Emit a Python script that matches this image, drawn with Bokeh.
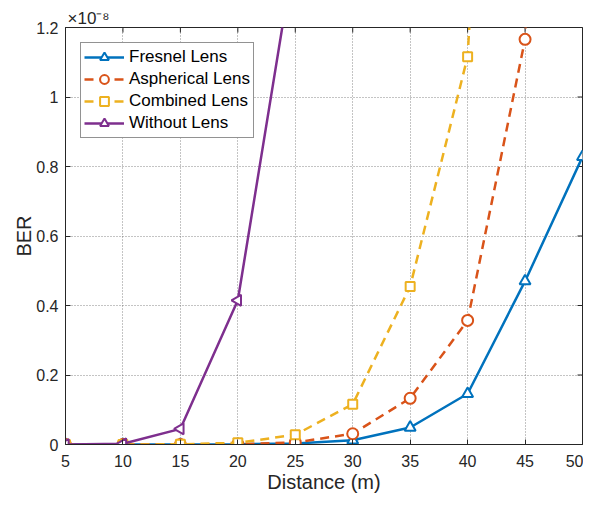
import numpy as np
from bokeh.plotting import figure
from bokeh.models import Range1d, Legend, LegendItem, FixedTicker
from bokeh.embed import file_html
from bokeh.resources import INLINE

distance = [5, 10, 15, 20, 25, 30, 35, 40, 45, 50]
fresnel = [0.0, 0.0, 0.0, 0.0005, 0.003, 0.012, 0.049, 0.146, 0.47, 0.828]
aspherical = [0.0, 0.0, 0.0, 0.001, 0.006, 0.031, 0.133, 0.357, 1.166, 4.5]
combined = [0.0, 0.0, 0.0005, 0.005, 0.028, 0.116, 0.455, 1.116, 4.0, 12.0]
without = [0.0, 0.002, 0.045, 0.415, 1.43, 4.0, 10.0, 20.0, 40.0, 80.0]
x_ticks = [5, 10, 15, 20, 25, 30, 35, 40, 45, 50]
y_ticks = [0, 0.2, 0.4, 0.6, 0.8, 1.0, 1.2]
y_tick_labels = ["0", "0.2", "0.4", "0.6", "0.8", "1", "1.2"]

FONT = "Liberation Sans"
TXT = "#262626"

p = figure(frame_width=517, frame_height=417, output_backend="svg", toolbar_location=None,
           x_range=Range1d(x_ticks[0], x_ticks[-1]), y_range=Range1d(y_ticks[0], y_ticks[-1]),
           min_border_left=65, min_border_right=1, min_border_top=27, min_border_bottom=50,
           title="×10⁻⁸")
p.title.text_font = FONT
p.title.text_font_size = "17px"
p.title.text_font_style = "normal"
p.title.text_color = TXT
p.title.align = "left"
p.title.offset = 2
p.title.standoff = 0
p.outline_line_color = TXT
p.outline_line_width = 1
p.background_fill_color = "white"

for ax in (p.xaxis[0], p.yaxis[0]):
    ax.major_label_text_font = FONT
    ax.major_label_text_font_size = "16px"
    ax.major_label_text_color = TXT
    ax.axis_label_text_font = FONT
    ax.axis_label_text_font_size = "20px"
    ax.axis_label_text_font_style = "normal"
    ax.axis_label_text_color = TXT
    ax.major_tick_in = 5
    ax.major_tick_out = 0
    ax.minor_tick_in = 0
    ax.minor_tick_out = 0
    ax.axis_line_color = TXT
    ax.major_tick_line_color = TXT

p.xaxis[0].ticker = FixedTicker(ticks=x_ticks)
p.yaxis[0].ticker = FixedTicker(ticks=y_ticks)
p.yaxis[0].major_label_overrides = {v: s for v, s in zip(y_ticks, y_tick_labels)}
p.xaxis[0].axis_label = "Distance (m)"
p.yaxis[0].axis_label = "BER"
p.xaxis[0].major_label_standoff = 10
p.yaxis[0].major_label_standoff = 7
p.xaxis[0].axis_label_standoff = 1
p.yaxis[0].axis_label_standoff = -2

for g in (p.xgrid[0], p.ygrid[0]):
    g.grid_line_color = "#555555"
    g.grid_line_dash = "1 2"
    g.grid_line_alpha = 0.7
    g.grid_line_width = 1

# mirrored inward ticks on the top and right edges (half of each dash is clipped by the frame)
p.scatter(x_ticks, [y_ticks[-1]] * len(x_ticks), marker="dash", angle=np.pi / 2, size=10,
          line_color=TXT, line_width=1)
p.scatter([x_ticks[-1]] * len(y_ticks), y_ticks, marker="dash", size=10,
          line_color=TXT, line_width=1)

series = [
    ("Fresnel Lens", fresnel, "#0072BD", "solid", "triangle", 0.0),
    ("Aspherical Lens", aspherical, "#D95319", "9 6", "circle", 0.0),
    ("Combined Lens", combined, "#EDB120", "9 6", "square", 0.0),
    ("Without Lens", without, "#7E2F8E", "solid", "triangle", np.pi / 2),
]
items = []
for name, ys, col, dash, marker, ang in series:
    r1 = p.line(distance, ys, line_color=col, line_width=2.5, line_dash=dash)
    size = 11 if marker != "square" else 9
    r2 = p.scatter(distance, ys, marker=marker, size=size, angle=ang, line_color=col,
                   fill_color="white", line_width=2)
    items.append(LegendItem(label=name, renderers=[r1, r2]))

legend = Legend(items=items, location="top_left")
legend.label_text_font = FONT
legend.label_text_font_size = "17px"
legend.label_text_color = "black"
legend.border_line_color = TXT
legend.border_line_width = 1
legend.background_fill_alpha = 1
legend.glyph_width = 40
legend.glyph_height = 22
legend.label_height = 22
legend.spacing = 0
legend.padding = 3
legend.margin = 15
legend.label_standoff = 5
p.add_layout(legend)

open("out.html", "w").write(file_html(p, INLINE))
